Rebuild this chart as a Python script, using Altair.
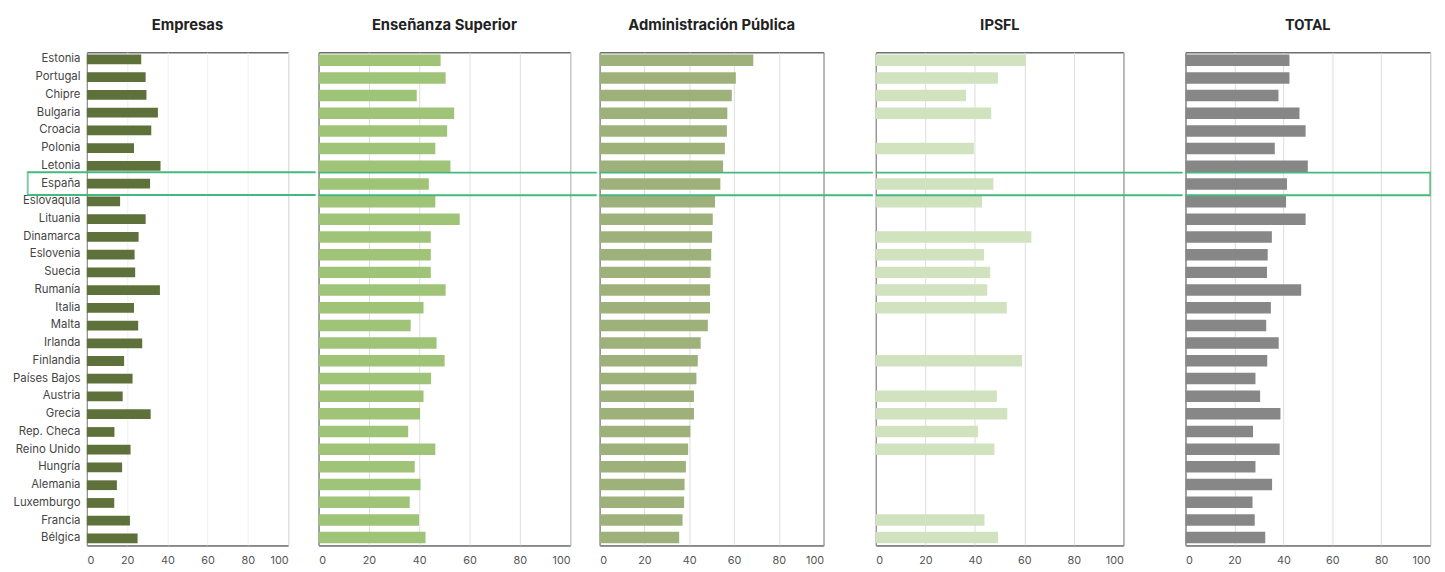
import altair as alt
import pandas as pd

countries = ["Estonia", "Portugal", "Chipre", "Bulgaria", "Croacia", "Polonia", "Letonia",
             "España", "Eslovaquia", "Lituania", "Dinamarca", "Eslovenia", "Suecia", "Rumanía",
             "Italia", "Malta", "Irlanda", "Finlandia", "Países Bajos", "Austria", "Grecia",
             "Rep. Checa", "Reino Unido", "Hungría", "Alemania", "Luxemburgo", "Francia", "Bélgica"]

empresas = [27.0, 29.2, 29.6, 35.3, 32.0, 23.4, 36.6, 31.4, 16.5, 29.2, 25.7, 23.7, 24.0, 36.3,
            23.4, 25.5, 27.5, 18.5, 22.7, 17.8, 31.7, 13.7, 21.7, 17.5, 14.9, 13.6, 21.4, 25.2]
ensenanza = [48.5, 50.5, 39.0, 53.9, 51.1, 46.4, 52.4, 43.8, 46.4, 56.1, 44.6, 44.6, 44.6, 50.5,
             41.7, 36.6, 46.9, 50.1, 44.7, 41.7, 40.3, 35.6, 46.4, 38.2, 40.5, 36.2, 39.9, 42.5]
administracion = [68.6, 60.8, 59.0, 57.0, 56.8, 55.9, 55.1, 53.9, 51.5, 50.5, 50.2, 49.8, 49.5, 49.3,
                  49.3, 48.3, 45.1, 43.8, 43.2, 42.1, 42.1, 40.5, 39.5, 38.5, 37.9, 37.7, 37.0, 35.5]
ipsfl = [60.6, 49.3, 36.4, 46.6, None, 39.6, None, 47.5, 42.9, None, 62.8, 43.7, 46.2, 45.0,
         52.9, None, None, 59.1, None, 48.9, 53.1, 41.3, 47.9, None, None, None, 43.9, 49.4]
total = [42.5, 42.5, 38.0, 46.6, 49.1, 36.5, 50.0, 41.5, 41.1, 49.1, 35.3, 33.6, 33.3, 47.3,
         34.9, 33.0, 38.1, 33.4, 28.6, 30.5, 38.8, 27.6, 38.5, 28.6, 35.4, 27.4, 28.3, 32.6]

x_ticks = [0, 20, 40, 60, 80, 100]
highlight = "España"
HL = "#43b97d"
FONT = "Inter"
SPACING = 13


def panel(title, vals, color, width, gap_right, first=False, last=False,
          pad_inner=0.35, grid_color="#dcdcdc", title_font=FONT):
    df = pd.DataFrame({"pais": countries, "valor": vals})
    base = alt.Chart(df)
    y_axis = alt.Axis(labels=first, ticks=False, domain=True, domainColor="#8a8a8a",
                      title=None, grid=False, labelFont=FONT, labelFontSize=11.5,
                      labelColor="#444", labelPadding=7, minExtent=72 if first else 0)
    y_scale = alt.Scale(domain=countries, paddingInner=pad_inner, paddingOuter=0.12)
    bars = base.mark_bar(color=color).encode(
        x=alt.X("valor:Q", scale=alt.Scale(domain=[0, 100], nice=False),
                axis=alt.Axis(values=x_ticks, grid=True, gridColor=grid_color, ticks=False,
                              domainColor="#8a8a8a", labelColor="#555", labelFont=FONT,
                              labelFontSize=11, labelPadding=9, title=None)),
        y=alt.Y("pais:N", sort=countries, scale=y_scale, axis=y_axis),
    )
    hl = base.transform_filter(alt.datum.pais == highlight)
    x_left = -60 if first else 0
    x_right = width + gap_right
    ypos = alt.Y("pais:N", sort=countries, scale=y_scale, bandPosition=0.5, axis=y_axis)
    top = hl.mark_rule(color=HL, strokeWidth=2, yOffset=-11.5).encode(
        y=ypos, x=alt.value(x_left), x2=alt.value(x_right))
    bot = hl.mark_rule(color=HL, strokeWidth=2, yOffset=11.5).encode(
        y=ypos, x=alt.value(x_left), x2=alt.value(x_right))
    layers = [bars, top, bot]
    if first:
        layers.append(hl.mark_tick(color=HL, orient="vertical", size=25, thickness=2).encode(
            y=ypos, x=alt.value(x_left)))
    if last:
        layers.append(hl.mark_tick(color=HL, orient="vertical", size=25, thickness=2).encode(
            y=ypos, x=alt.value(width)))
    return alt.layer(*layers).properties(
        width=width, height=500,
        title=alt.TitleParams(title, fontSize=15, fontWeight="bold", font=title_font,
                              color="#222", offset=20, anchor="middle"))


def spacer(width):
    return alt.Chart(pd.DataFrame({"a": [0]})).mark_point(opacity=0).encode(
        x=alt.X("a:Q", axis=None), y=alt.Y("a:Q", axis=None)
    ).properties(width=width, height=500, view=alt.ViewBackground(stroke="transparent"))


gaps = [28, 27, 50, 60]
pA = panel("Empresas", empresas, "#5e713a", 204, gaps[0], first=True, pad_inner=0.45, grid_color="#efefef")
pB = panel("Enseñanza Superior", ensenanza, "#9fc478", 255, gaps[1])
pC = panel("Administración Pública", administracion, "#9fb17b", 227, gaps[2])
pD = panel("IPSFL", ipsfl, "#d1e2bf", 251, gaps[3], title_font="Roboto")
pE = panel("TOTAL", total, "#878787", 248, 0, last=True, title_font="Roboto")

chart = alt.hconcat(
    pA, spacer(gaps[0] - 2 * SPACING + 3),
    pB, spacer(gaps[1] - 2 * SPACING + 3),
    pC, spacer(gaps[2] - 2 * SPACING + 3),
    pD, spacer(gaps[3] - 2 * SPACING + 3),
    pE,
    spacing=SPACING, bounds="flush"
).properties(
    padding={"left": 4, "top": 5, "right": 5, "bottom": 5}
).configure_view(stroke="#222", strokeWidth=1)

chart.save("out.html", embed_options={"renderer": "svg", "actions": False})
